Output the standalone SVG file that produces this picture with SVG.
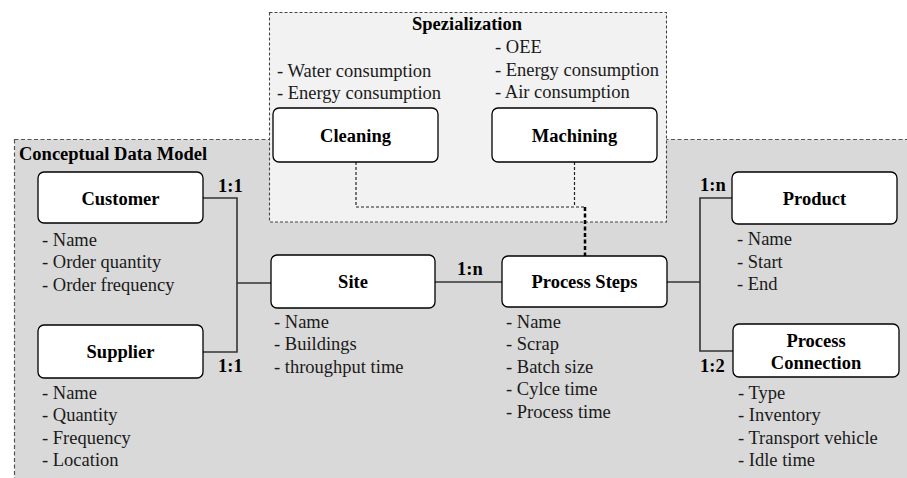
<svg xmlns="http://www.w3.org/2000/svg" width="907" height="478" viewBox="0 0 907 478">
<style>
.node{fill:#fff;stroke:#000;stroke-width:1.3}
.t{font-family:'Liberation Serif','Times New Roman',serif;font-size:18.5px;fill:#1a1a1a}
.b{font-weight:bold;fill:#000}
.c{text-anchor:middle}
.ln{fill:none;stroke:#333;stroke-width:1.6}
.dl{fill:none;stroke:#222;stroke-width:1.2;stroke-dasharray:3,2}
.dt{fill:none;stroke:#000;stroke-width:2.5;stroke-dasharray:4,2.5}
</style>
<rect x="0" y="0" width="907" height="478" fill="#fff"/>
<g id="conceptual-frame">
<rect x="14.5" y="139.5" width="900" height="350" fill="#d9d9d9" stroke="#555" stroke-width="1.2" stroke-dasharray="4,2.5"/>
<text class="t b" x="19" y="160">Conceptual Data Model</text>
</g>
<g id="specialization-frame">
<rect x="269.5" y="12.5" width="397" height="209.5" fill="#f2f2f2" stroke="#444" stroke-width="1.1" stroke-dasharray="3,2"/>
<text class="t b c" x="467" y="30">Spezialization</text>
</g>
<g id="connectors">
<polyline class="ln" points="203,198 237,198 237,352 203,352"/>
<line class="ln" x1="237" y1="283" x2="271" y2="283"/>
<line class="ln" x1="435" y1="282" x2="502" y2="282"/>
<line class="ln" x1="667" y1="282" x2="700" y2="282"/>
<polyline class="ln" points="732,198 700,198 700,351 733,351"/>
<polyline class="dl" points="356,162 356,207 585,207"/>
<line class="dl" x1="574.5" y1="162" x2="574.5" y2="207"/>
<line class="dt" x1="585" y1="207" x2="585" y2="256"/>
<text class="t b" x="218" y="192">1:1</text>
<text class="t b" x="218" y="372">1:1</text>
<text class="t b" x="457" y="275">1:n</text>
<text class="t b" x="700" y="191">1:n</text>
<text class="t b" x="700" y="372">1:2</text>
</g>
<g id="cleaning">
<rect class="node" x="273" y="108" width="165" height="54" rx="6"/>
<text class="t b c" x="355.5" y="142">Cleaning</text>
<text class="t" x="277" y="77">- Water consumption</text>
<text class="t" x="277" y="99">- Energy consumption</text>
</g>
<g id="machining">
<rect class="node" x="492" y="108" width="165" height="54" rx="6"/>
<text class="t b c" x="574.5" y="142">Machining</text>
<text class="t" x="495" y="53">- OEE</text>
<text class="t" x="495" y="76">- Energy consumption</text>
<text class="t" x="495" y="98">- Air consumption</text>
</g>
<g id="customer">
<rect class="node" x="38" y="172" width="165" height="51" rx="6"/>
<text class="t b c" x="120.5" y="205">Customer</text>
<text class="t" x="42" y="246">- Name</text>
<text class="t" x="42" y="268">- Order quantity</text>
<text class="t" x="42" y="291">- Order frequency</text>
</g>
<g id="supplier">
<rect class="node" x="38" y="325" width="165" height="53" rx="6"/>
<text class="t b c" x="120.5" y="358">Supplier</text>
<text class="t" x="42" y="399">- Name</text>
<text class="t" x="42" y="421">- Quantity</text>
<text class="t" x="42" y="444">- Frequency</text>
<text class="t" x="42" y="466">- Location</text>
</g>
<g id="site">
<rect class="node" x="271" y="255" width="164" height="53" rx="6"/>
<text class="t b c" x="353" y="288">Site</text>
<text class="t" x="274" y="328">- Name</text>
<text class="t" x="274" y="350">- Buildings</text>
<text class="t" x="274" y="373">- throughput time</text>
</g>
<g id="process-steps">
<rect class="node" x="502" y="256" width="165" height="51" rx="6"/>
<text class="t b c" x="584.5" y="288">Process Steps</text>
<text class="t" x="506" y="328">- Name</text>
<text class="t" x="506" y="350">- Scrap</text>
<text class="t" x="506" y="373">- Batch size</text>
<text class="t" x="506" y="395">- Cylce time</text>
<text class="t" x="506" y="418">- Process time</text>
</g>
<g id="product">
<rect class="node" x="732" y="172" width="165" height="52" rx="6"/>
<text class="t b c" x="814.5" y="205">Product</text>
<text class="t" x="737" y="245">- Name</text>
<text class="t" x="737" y="268">- Start</text>
<text class="t" x="737" y="290">- End</text>
</g>
<g id="process-connection">
<rect class="node" x="733" y="324" width="166" height="53" rx="6"/>
<text class="t b c" x="816" y="347">Process</text>
<text class="t b c" x="816" y="369">Connection</text>
<text class="t" x="738" y="399">- Type</text>
<text class="t" x="738" y="421">- Inventory</text>
<text class="t" x="738" y="444">- Transport vehicle</text>
<text class="t" x="738" y="466">- Idle time</text>
</g>
</svg>
